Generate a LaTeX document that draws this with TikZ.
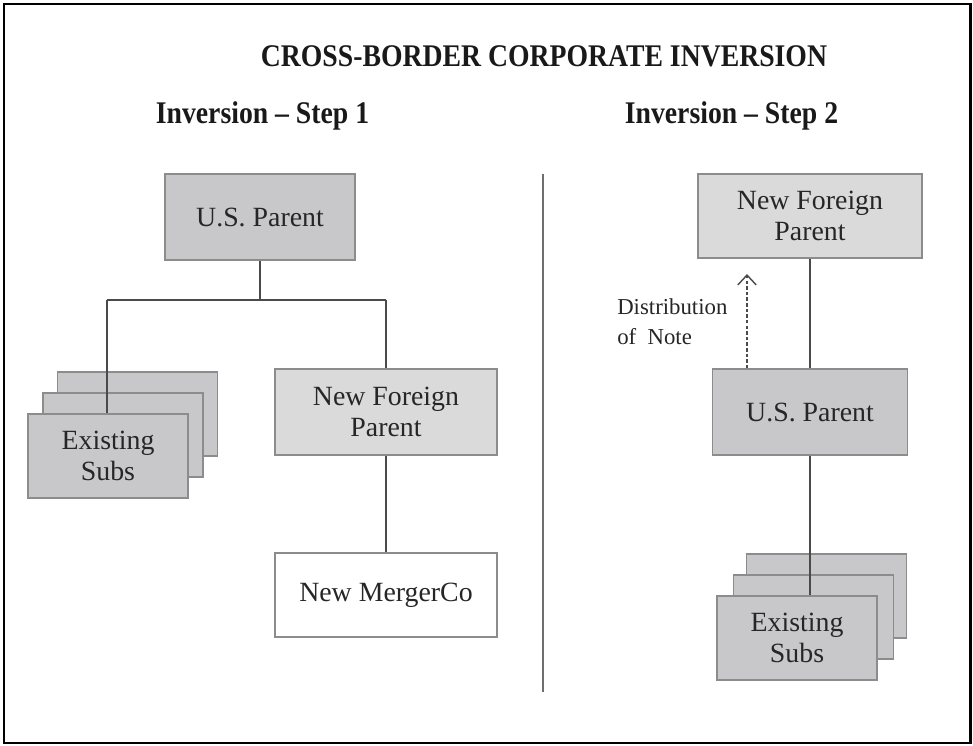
\documentclass[tikz,border=0pt]{standalone}
\usepackage{fontspec}
\setmainfont{Liberation Serif}
\newfontfamily\headfont[FakeStretch=0.88, Ligatures=TeX]{Liberation Serif}
\usepackage{tikz}
\usetikzlibrary{arrows.meta, positioning}
\definecolor{darkfill}{HTML}{C8C8CA}
\definecolor{lightfill}{HTML}{DADADA}
\definecolor{edge}{HTML}{8C8C8C}
\definecolor{wire}{HTML}{4A4A4A}
\tikzstyle{box} = [rectangle, draw = edge, line width = 0.8pt, text = black!85, align = center, inner sep = 0pt, font = \fontsize{19.8}{22}\selectfont]
\tikzstyle{dbox} = [box, fill = darkfill, minimum width = 4.75cm, minimum height = 2.15cm]
\tikzstyle{lbox} = [box, fill = lightfill, minimum width = 5.55cm, minimum height = 2.15cm]
\tikzstyle{wbox} = [box, fill = white, minimum width = 5.55cm, minimum height = 2.1cm]
\tikzstyle{sbox} = [box, fill = darkfill, minimum width = 4cm, minimum height = 2.1cm]
\tikzstyle{head} = [anchor = base, text = black!90, font = \headfont\bfseries\fontsize{22.4}{26}\selectfont]
\tikzstyle{line} = [draw = wire, line width = 1.3pt]
\tikzstyle{noteline} = [draw = wire, line width = 1pt, dash pattern = on 2.5pt off 1.5pt, -{Straight Barb[length = 7pt, width = 13pt]}]

\begin{document}
\begin{tikzpicture}[x = 0.025cm, y = -0.025cm]
			\useasboundingbox (0, 0) rectangle (973, 745);
			\draw [line width = 1.8pt] (4, 4) rectangle (970.5, 743);
			
			\node [head] (title) at (544, 66) {CROSS-BORDER CORPORATE INVERSION};
			\node [head] (step1) at (262.5, 123) {Inversion -- Step 1};
			\node [head] (step2) at (731.5, 123) {Inversion -- Step 2};
			
			% step 1
			\node [dbox] (uspA) at (260, 217) {U.S. Parent};
			\node [sbox] (subsA3) at (137.5, 414) {};
			\node [sbox] (subsA2) at (123, 435) {};
			\node [lbox] (nfpA) at (386, 412) {New Foreign\\Parent};
			\node [wbox] (merger) at (386, 595) {New MergerCo};
			\coordinate (jl) at (107, 300);
			\coordinate (jr) at (386, 300);
			
			\path [line] (uspA.south) -- (uspA.south |- jl);
			\path [line] (jl) -- (jr);
			\path [line] (jl) -- (jl |- subsA2.south);
			\node [sbox] (subsA) at (108, 456) {Existing\\Subs};
			\path [line] (jr) -- (nfpA.north);
			\path [line] (nfpA.south) -- (merger.north);
			
			% divider
			\coordinate (dtop) at (543, 174);
			\coordinate (dbot) at (543, 692);
			\path [draw = wire!80, line width = 1pt] (dtop) -- (dbot);
			
			% step 2
			\node [lbox, minimum width = 5.6cm, minimum height = 2.1cm] (nfpB) at (810, 216) {New Foreign\\Parent};
			\node [dbox, minimum width = 4.875cm] (uspB) at (810, 412) {U.S. Parent};
			\node [sbox] (subsB3) at (826.5, 596) {};
			\node [sbox] (subsB2) at (813.5, 617) {};
			\path [line] (uspB.south) -- (uspB.south |- subsB2.south);
			\node [sbox] (subsB) at (797, 638) {Existing\\Subs};
			\path [line] (nfpB.south) -- (uspB.north);
			
			\coordinate (tip) at (747, 274);
			\path [noteline] (tip |- uspB.north) -- (tip);
			\node [anchor = north west, align = left, inner sep = 0pt, text = black!85, font = \fontsize{16.2}{21.3}\selectfont] (note) at (617, 298) {Distribution\\of\hspace{0.25em} Note};
		\end{tikzpicture}
\end{document}
